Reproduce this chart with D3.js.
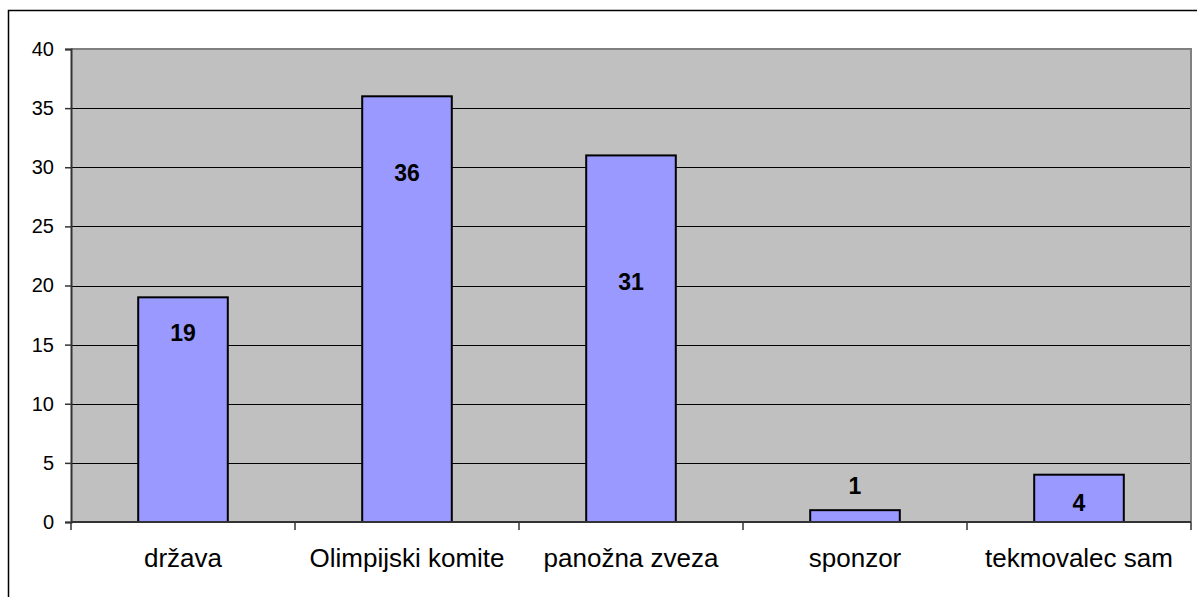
<!DOCTYPE html>
<html>
<head>
<meta charset="utf-8">
<script src="https://cdn.jsdelivr.net/npm/d3@7"></script>
<style>
  body { margin: 0; background: #fff; }
  svg { display: block; font-family: Arial, "Liberation Sans", sans-serif; }
</style>
</head>
<body>
<div id="chart"></div>
<script>
// podatki
const categories = ["država", "Olimpijski komite", "panožna zveza", "sponzor", "tekmovalec sam"];
const values = [19, 36, 31, 1, 4];
// kje stojijo oznake (v enotah osi y, odčitano s slike)
const labelAt = [16, 29.5, 20.3, 3.1, 1.6];
const yTicks = [0, 5, 10, 15, 20, 25, 30, 35, 40];

const width = 1197, height = 597;
const plot = { left: 71, right: 1191, top: 49, bottom: 522 };

const svg = d3.select('#chart').append('svg')
    .attr('width', width)
    .attr('height', height);

// zunanji okvir
svg.append('rect')
    .attr('x', 8.5).attr('y', 10.5)
    .attr('width', 1195).attr('height', 595)
    .attr('fill', 'none')
    .attr('stroke', '#000')
    .attr('stroke-width', 1.5);

const x = d3.scaleBand()
    .domain(categories)
    .range([plot.left, plot.right])
    .paddingInner(0)
    .paddingOuter(0);

const y = d3.scaleLinear().domain([0, 40]).range([plot.bottom, plot.top]);

// sivo ozadje
svg.append('rect')
    .attr('x', plot.left).attr('y', plot.top)
    .attr('width', plot.right - plot.left)
    .attr('height', plot.bottom - plot.top)
    .attr('fill', '#C0C0C0');

// mreža
svg.append('g')
    .selectAll('line')
    .data(yTicks.filter(d => d > 0 && d < 40))
    .join('line')
    .attr('x1', plot.left).attr('x2', plot.right)
    .attr('y1', d => Math.round(y(d)) + 0.5).attr('y2', d => Math.round(y(d)) + 0.5)
    .attr('stroke', '#000')
    .attr('stroke-width', 1);

// okvir zgoraj in desno
svg.append('path')
    .attr('d', `M${plot.left},${plot.top} H${plot.right} V${plot.bottom}`)
    .attr('fill', 'none')
    .attr('stroke', '#808080')
    .attr('stroke-width', 2);

// stolpci
const bw = x.bandwidth() * 0.4;
svg.append('g')
    .selectAll('rect')
    .data(values)
    .join('rect')
    .attr('x', (d, i) => x(categories[i]) + (x.bandwidth() - bw) / 2)
    .attr('y', d => y(d))
    .attr('width', bw)
    .attr('height', d => y(0) - y(d))
    .attr('fill', '#9999FF')
    .attr('stroke', '#000')
    .attr('stroke-width', 2);

// oznake vrednosti
svg.append('g')
    .selectAll('text')
    .data(values)
    .join('text')
    .attr('x', (d, i) => x(categories[i]) + x.bandwidth() / 2)
    .attr('y', (d, i) => y(labelAt[i]))
    .attr('dy', '0.36em')
    .attr('text-anchor', 'middle')
    .style('font-size', '23px')
    .style('font-weight', 'bold')
    .attr('fill', '#000')
    .text(d => d);

// os y
const yAxis = svg.append('g')
    .attr('transform', `translate(${plot.left}, 0)`)
    .call(d3.axisLeft(y).tickValues(yTicks).tickSize(6).tickPadding(11));
yAxis.select('.domain').attr('stroke', '#333').attr('stroke-width', 2);
yAxis.selectAll('line').attr('stroke', '#333').attr('stroke-width', 1.5);
yAxis.selectAll('text')
    .style('font-size', '20px')
    .style('font-family', 'Arial, "Liberation Sans", sans-serif')
    .attr('fill', '#000');

// os x
const xAxis = svg.append('g')
    .attr('transform', `translate(0, ${plot.bottom})`);
xAxis.append('line')
    .attr('x1', plot.left).attr('x2', plot.right)
    .attr('stroke', '#333').attr('stroke-width', 2);
xAxis.selectAll('.tick')
    .data(categories.concat([null]))
    .join('line')
    .attr('class', 'tick')
    .attr('x1', (d, i) => d ? x(d) : plot.right)
    .attr('x2', (d, i) => d ? x(d) : plot.right)
    .attr('y1', 0).attr('y2', 8)
    .attr('stroke', '#333').attr('stroke-width', 1.5);
xAxis.selectAll('text')
    .data(categories)
    .join('text')
    .attr('x', d => x(d) + x.bandwidth() / 2)
    .attr('y', 45)
    .attr('text-anchor', 'middle')
    .style('font-size', '26px')
    .attr('fill', '#000')
    .text(d => d);
</script>
</body>
</html>
